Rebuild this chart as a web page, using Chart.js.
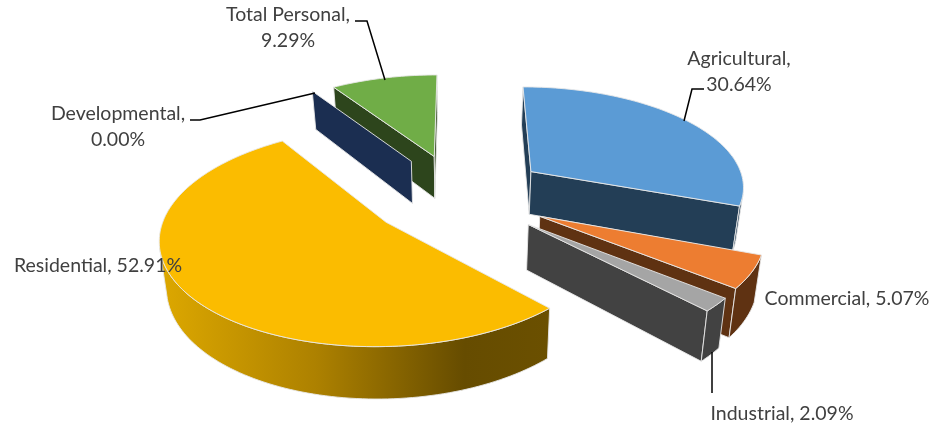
<!DOCTYPE html>
<html>
<head>
<meta charset="utf-8">
<title>Share by category</title>
<script src="https://cdn.jsdelivr.net/npm/chart.js@4"></script>
<style>
    html, body { margin: 0; padding: 0; background: #fff; }
    canvas { display: block; }
</style>
</head>
<body>
<canvas id="pieChart" width="933" height="426"></canvas>
<script>
const categories = ['Agricultural', 'Commercial', 'Industrial', 'Residential', 'Developmental', 'Total Personal'];
const shares = [30.64, 5.07, 2.09, 52.91, 0.00, 9.29];

const topColors = ['#5B9BD5', '#ED7D31', '#A5A5A5', '#FBBC00', '#264478', '#70AD47'];
const wallColors = ['#233E56', '#5F3212', '#424242', '#6B5000', '#1B2E51', '#2D451C'];
const explodeOffsets = [194, 194, 194, 194, 194, 194];

// where each label sits: x, y of the text centre, and whether it wraps after the comma
const labelSpots = [
    { x: 739, y: 59, wrap: true },
    { x: 847, y: 299, wrap: false },
    { x: 782, y: 414, wrap: false },
    { x: 98, y: 266, wrap: false },
    { x: 118, y: 114, wrap: true },
    { x: 288, y: 15, wrap: true }
];
const leaderLines = [
    [[704, 89], [692, 89], [684, 121]],
    [],
    [[712, 352], [712, 393]],
    [],
    [[190, 120], [200, 120], [315, 93]],
    [[355, 21], [367, 21], [385, 80]]
];

// perspective camera for the tilted pie, unit radius in model space
const camera = { vx: 459, vy: -600, spread: 216, dist: 795, tilt: 0.127, depth: 44, shrink: 0.976 };

function project(X, Y, lower) {
    const w = 1 - camera.tilt * Y;
    const scale = lower ? camera.shrink : 1;
    return {
        x: camera.vx + camera.spread * scale * X / w,
        y: camera.vy + (camera.dist + (lower ? camera.depth : 0)) / w
    };
}

function cross(a, b, c) {
    return (b.x - a.x) * (c.y - b.y) - (b.y - a.y) * (c.x - b.x);
}

function fillPath(ctx, points, fill) {
    ctx.beginPath();
    points.forEach((p, i) => i ? ctx.lineTo(p.x, p.y) : ctx.moveTo(p.x, p.y));
    ctx.closePath();
    ctx.fillStyle = fill;
    ctx.fill();
    ctx.strokeStyle = 'rgba(232, 232, 232, 0.9)';
    ctx.lineWidth = 1;
    ctx.stroke();
}

function drawWall(ctx, ox, oy, angle, fill, sign, always) {
    const X = ox + Math.cos(angle);
    const Y = oy + Math.sin(angle);
    const tipTop = project(ox, oy, false);
    const outTop = project(X, Y, false);
    const outLow = project(X, Y, true);
    const tipLow = project(ox, oy, true);
    if (always || cross(tipTop, outTop, outLow) * sign > 0) {
        fillPath(ctx, [tipTop, outTop, outLow, tipLow], fill);
    }
}

function rimFill(ctx, index, wall) {
    // the big slice fades from gold at the left into dark brown
    if (index !== 3) return wall;
    const g = ctx.createLinearGradient(160, 0, 550, 0);
    g.addColorStop(0, '#DDA800');
    g.addColorStop(0.4, '#AD8100');
    g.addColorStop(0.78, '#664C00');
    g.addColorStop(1, '#6B5000');
    return g;
}

function drawSlice(ctx, arc, index) {
    const mid = (arc.startAngle + arc.endAngle) / 2;
    const radius = arc.outerRadius;
    const push = arc.options.offset / 4 / radius;
    const ox = Math.cos(mid) * push;
    const oy = Math.sin(mid) * push;
    const wall = wallColors[index];
    const sweep = arc.endAngle - arc.startAngle;

    if (sweep === 0) {
        drawWall(ctx, ox, oy, arc.startAngle, wall, 1, true);
        return;
    }
    drawWall(ctx, ox, oy, arc.startAngle, wall, -1, false);
    drawWall(ctx, ox, oy, arc.endAngle, wall, 1, false);

    const steps = Math.max(8, Math.ceil(sweep * 40));
    const topEdge = [];
    const lowEdge = [];
    for (let i = 0; i <= steps; i++) {
        const a = arc.startAngle + sweep * i / steps;
        topEdge.push(project(ox + Math.cos(a), oy + Math.sin(a), false));
        lowEdge.push(project(ox + Math.cos(a), oy + Math.sin(a), true));
    }

    // outer rim: only the stretch that faces the viewer
    const run = [];
    for (let i = 0; i < steps; i++) {
        if (cross(topEdge[i], topEdge[i + 1], lowEdge[i + 1]) < 0) run.push(i);
    }
    if (run.length) {
        const first = run[0];
        const last = run[run.length - 1] + 1;
        const upper = topEdge.slice(first, last + 1);
        const lower = lowEdge.slice(first, last + 1).reverse();
        fillPath(ctx, upper.concat(lower), rimFill(ctx, index, wall));
    }

    fillPath(ctx, [project(ox, oy, false)].concat(topEdge), arc.options.backgroundColor);
}

const tiltedPie = {
    id: 'tiltedPie',
    beforeDatasetDraw(chart, args) {
        const ctx = chart.ctx;
        const arcs = args.meta.data;
        const order = arcs.map((arc, i) => i).sort((a, b) => {
            const midA = (arcs[a].startAngle + arcs[a].endAngle) / 2;
            const midB = (arcs[b].startAngle + arcs[b].endAngle) / 2;
            return Math.sin(midA) - Math.sin(midB);
        });
        ctx.save();
        ctx.lineJoin = 'round';
        order.forEach(i => drawSlice(ctx, arcs[i], i));
        ctx.restore();
        return false;
    },
    afterDraw(chart) {
        const ctx = chart.ctx;
        ctx.save();
        ctx.strokeStyle = '#000';
        ctx.lineWidth = 1.5;
        leaderLines.forEach(line => {
            if (!line.length) return;
            ctx.beginPath();
            line.forEach((p, i) => i ? ctx.lineTo(p[0], p[1]) : ctx.moveTo(p[0], p[1]));
            ctx.stroke();
        });
        ctx.fillStyle = '#404040';
        ctx.font = '19.5px Lato';
        ctx.textAlign = 'center';
        ctx.textBaseline = 'middle';
        categories.forEach((name, i) => {
            const spot = labelSpots[i];
            const value = shares[i].toFixed(2) + '%';
            if (spot.wrap) {
                ctx.fillText(name + ',', spot.x, spot.y);
                ctx.fillText(value, spot.x, spot.y + 26);
            } else {
                ctx.fillText(name + ', ' + value, spot.x, spot.y);
            }
        });
        ctx.restore();
    }
};

new Chart(document.getElementById('pieChart').getContext('2d'), {
    type: 'pie',
    data: {
        labels: categories,
        datasets: [{
            data: shares,
            backgroundColor: topColors,
            offset: explodeOffsets,
            borderWidth: 0
        }]
    },
    options: {
        responsive: false,
        animation: false,
        events: [],
        plugins: {
            legend: { display: false },
            tooltip: { enabled: false }
        }
    },
    plugins: [tiltedPie]
});
</script>
</body>
</html>
